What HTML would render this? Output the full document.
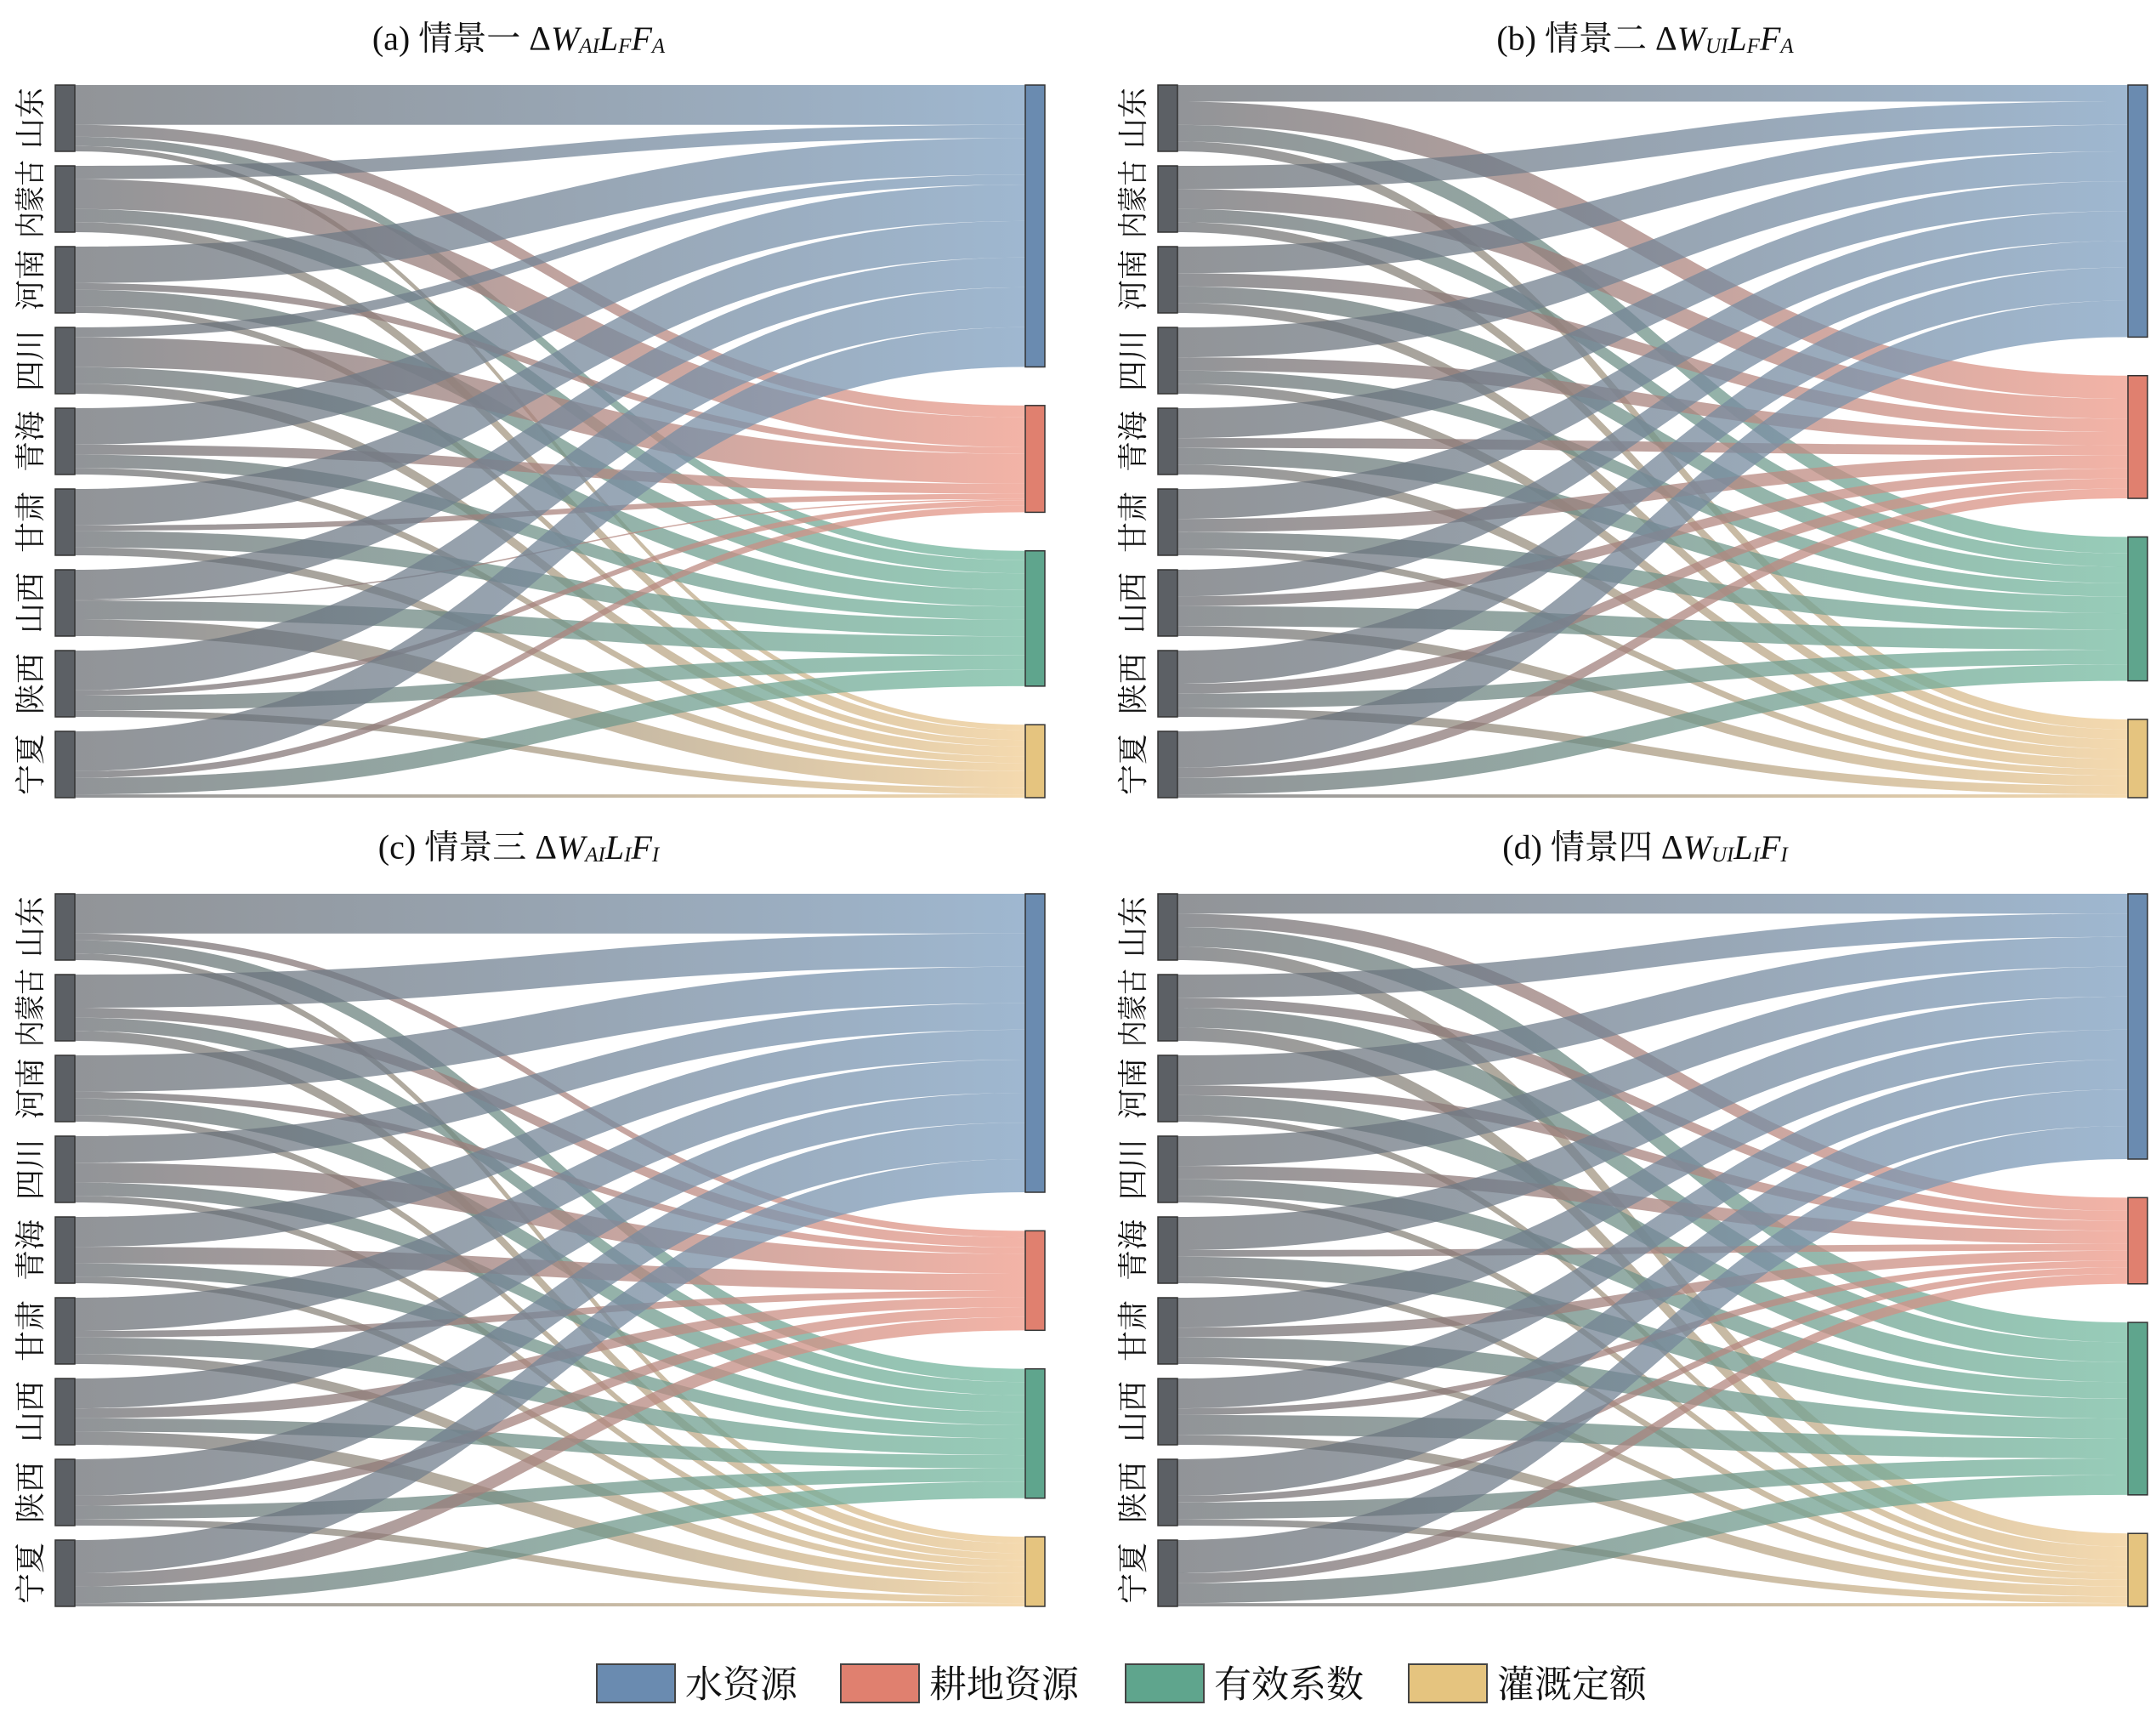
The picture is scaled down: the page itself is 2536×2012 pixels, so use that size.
<!DOCTYPE html>
<html><head><meta charset="utf-8">
<style>
html,body{margin:0;padding:0;background:#fff}
svg{display:block}
</style></head>
<body>
<svg id="chart" width="2536" height="2012" viewBox="0 0 2536 2012" xmlns="http://www.w3.org/2000/svg">
<defs id="defs"></defs>
<g id="panels"></g>
<g id="legend"></g>
</svg>
<script>
const provinces = ["山东","内蒙古","河南","四川","青海","甘肃","山西","陕西","宁夏"];
const categories = ["水资源","耕地资源","有效系数","灌溉定额"];
const panelTitles = ["(a) 情景一","(b) 情景二","(c) 情景三","(d) 情景四"];
const panelMath = [["AI","F","A"],["UI","F","A"],["AI","I","I"],["UI","I","I"]];
// shares per province: [water, land, efficiency, quota]
const scenA = [[.60,.18,.14,.08],[.20,.45,.20,.15],[.55,.10,.25,.10],[.15,.45,.25,.15],[.55,.15,.20,.10],[.55,.08,.25,.12],[.45,.02,.28,.25],[.60,.08,.22,.10],[.60,.10,.25,.05]];
const scenB = [[.25,.35,.25,.15],[.35,.30,.20,.15],[.40,.20,.25,.15],[.45,.20,.20,.15],[.45,.15,.25,.15],[.45,.20,.25,.10],[.40,.15,.30,.15],[.50,.15,.22,.13],[.55,.15,.25,.05]];
const scenC = [[.60,.10,.20,.10],[.50,.15,.20,.15],[.55,.10,.25,.10],[.40,.30,.20,.10],[.45,.25,.20,.10],[.50,.10,.25,.15],[.45,.15,.20,.20],[.55,.15,.20,.10],[.50,.20,.25,.05]];
const scenD = [[.30,.20,.30,.20],[.35,.15,.30,.20],[.45,.15,.30,.10],[.45,.20,.25,.10],[.50,.10,.30,.10],[.45,.15,.30,.10],[.45,.10,.30,.15],[.55,.10,.25,.10],[.50,.15,.30,.05]];
const scenarios = [scenA, scenB, scenC, scenD];

const NS = "http://www.w3.org/2000/svg";
const nodeColors = ["#6a8bb0","#e0806f","#5fa58d","#e5c47f"];
const linkColors = ["#86a5c4","#f0a090","#7cbfa6","#f2d09a"];
const offsets = [[0,0],[1297,0],[0,951],[1297,951]];
const defs = document.getElementById('defs');
const panelsG = document.getElementById('panels');

function mk(tag, attrs, parent){ const e=document.createElementNS(NS,tag); for(const k in attrs) e.setAttribute(k,attrs[k]); if(parent) parent.appendChild(e); return e; }

const LX0=65, LX1=88, RX0=1206, RX1=1229, TOP=100, BOT=938;
const LH=78, LGAP=(BOT-TOP-9*LH)/8;

scenarios.forEach((data,pi)=>{
  const [dx,dy]=offsets[pi];
  const g=mk('g',{transform:`translate(${dx},${dy})`},panelsG);
  
  
  categories.forEach((c,ci)=>{
    const lg=mk('linearGradient',{id:`grad${pi}_${ci}`,gradientUnits:'userSpaceOnUse',x1:LX1,y1:0,x2:RX0,y2:0},defs);
    mk('stop',{offset:'0','stop-color':'#63676c','stop-opacity':'0.78'},lg);
    mk('stop',{offset:'1','stop-color':linkColors[ci],'stop-opacity':'0.88'},lg);
  });
  const norm=data.map(r=>{const s=r.reduce((a,b)=>a+b,0);return r.map(v=>v/s*LH);});
  const catTot=categories.map((c,ci)=>norm.reduce((a,r)=>a+r[ci],0));
  const totalH=catTot.reduce((a,b)=>a+b,0);
  const RGAP=(BOT-TOP-totalH)/3;
  const rTop=[];let y=TOP;
  catTot.forEach((h,ci)=>{rTop.push(y);y+=h+RGAP;});
  const rCursor=rTop.slice();
  const linksG=mk('g',{},g);
  
  
  norm.forEach((row,si)=>{
    let ly=TOP+si*(LH+LGAP);
    row.forEach((w,ci)=>{
      if(w<=0) return;
      const ry=rCursor[ci]; rCursor[ci]+=w;
      const mx=(LX1+RX0)/2;
      const d=`M${LX1},${ly} C${mx},${ly} ${mx},${ry} ${RX0},${ry} L${RX0},${ry+w} C${mx},${ry+w} ${mx},${ly+w} ${LX1},${ly+w} Z`;
      const p=mk('path',{d:d,fill:`url(#grad${pi}_${ci})`,'fill-opacity':'0.9'},linksG);
      
      
      ly+=w;
    });
  });
  provinces.forEach((p,si)=>{
    const ny=TOP+si*(LH+LGAP);
    const r=mk('rect',{x:LX0,y:ny,width:LX1-LX0,height:LH,fill:'#5c6065',stroke:'#333','stroke-width':1.5},g);
    
    
    const attrs={x:0,y:0,transform:`translate(36,${ny+LH/2}) rotate(-90)`,'text-anchor':'middle','dominant-baseline':'central','font-size':'36','font-family':'"Liberation Serif","Noto Serif CJK SC",serif',fill:'#111'};
    if(p.length>2){attrs.textLength='92';attrs.lengthAdjust='spacingAndGlyphs';}
    const t=mk('text',attrs,g);
    t.textContent=p;
    
    
  });
  categories.forEach((c,ci)=>{
    const r=mk('rect',{x:RX0,y:rTop[ci],width:RX1-RX0,height:catTot[ci],fill:nodeColors[ci],stroke:'#333','stroke-width':1.5},g);
    
    
  });
  const m=panelMath[pi];
  const t=mk('text',{x:(pi%2?1935-dx:610),y:45,'text-anchor':'middle','dominant-baseline':'central','font-size':'40','font-family':'"Liberation Serif","Noto Serif CJK SC",serif',fill:'#111'},g);
  
  
  t.innerHTML=`${panelTitles[pi]}  Δ<tspan font-style="italic">W</tspan><tspan font-style="italic" font-size="25" dy="9">${m[0]}</tspan><tspan font-style="italic" dy="-9">L</tspan><tspan font-style="italic" font-size="25" dy="9">${m[1]}</tspan><tspan font-style="italic" dy="-9">F</tspan><tspan font-style="italic" font-size="25" dy="9">${m[2]}</tspan>`;
});

const legendG=document.getElementById('legend');
const legX=[702,989,1324,1657];
categories.forEach((c,ci)=>{
  const r=mk('rect',{x:legX[ci],y:1957,width:92,height:45,fill:nodeColors[ci],stroke:'#444','stroke-width':2},legendG);
  
  
  const t=mk('text',{x:legX[ci]+104,y:1981,'dominant-baseline':'central','font-size':'44','font-family':'"Liberation Serif","Noto Serif CJK SC",serif',fill:'#111'},legendG);
  t.textContent=c;
  
  
});
</script>
</body></html>
